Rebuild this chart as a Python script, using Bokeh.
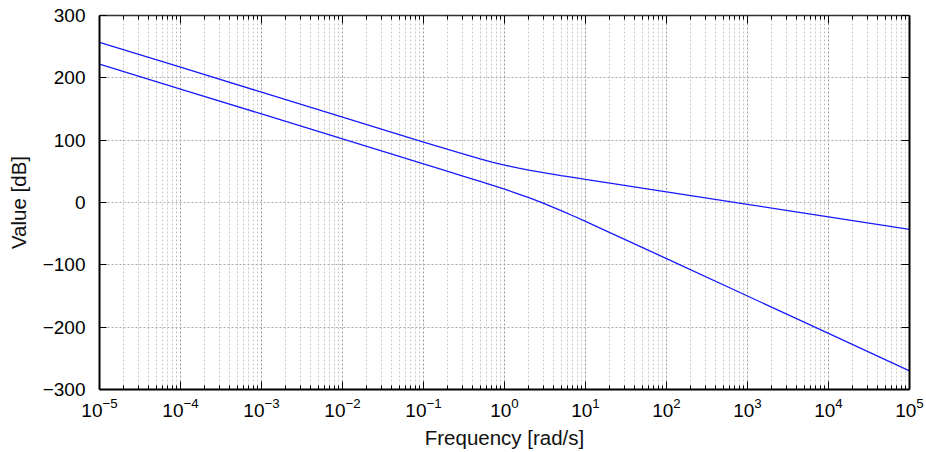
from bokeh.plotting import figure
from bokeh.models import LogAxis, LinearAxis, FixedTicker, CustomJSTickFormatter
from bokeh.embed import file_html
from bokeh.resources import INLINE

# Data
freq = [1e-5, 1e-4, 1e-3, 1e-2, 1e-1, 0.2, 0.3, 0.5, 0.7, 1, 1.5, 2, 3, 5, 7,
        10, 20, 50, 100, 1e3, 1e4, 1e5]
upper_db = [257, 217, 177, 137, 97.0, 85.1, 78.3, 70.0, 64.9, 60.0, 55.1, 51.9,
            47.9, 43.2, 40.2, 37.0, 31.0, 23.0, 17.0, -3.0, -23.0, -43.0]
lower_db = [222, 182, 142, 102, 62.0, 49.9, 42.9, 33.9, 27.9, 21.4, 13.6, 7.8,
            -1.0, -13.0, -21.3, -30.3, -48.2, -72.0, -90.0, -150.0, -210.0, -270.0]

y_ticks = [-300, -200, -100, 0, 100, 200, 300]
x_decades = [1e-5, 1e-4, 1e-3, 1e-2, 1e-1, 1e0, 1e1, 1e2, 1e3, 1e4, 1e5]
x_minor = [m * d for d in x_decades[:-1] for m in range(2, 10)]

FONT = "Liberation Sans"
TICK_FS = "19px"
LABEL_FS = "20.5px"


def xticker():
    return FixedTicker(ticks=x_decades, minor_ticks=x_minor)


p = figure(x_axis_type="log", x_range=(1e-5, 1e5), y_range=(-300, 300),
           frame_width=810, frame_height=374,
           min_border_left=99, min_border_right=17, min_border_top=15,
           min_border_bottom=58,
           output_backend="svg", toolbar_location=None)
p.outline_line_color = None
p.background_fill_color = "white"
p.border_fill_color = "white"

# grids
p.xgrid.ticker = xticker()
p.xgrid.grid_line_color = "#999999"
p.xgrid.grid_line_dash = "2 2"
p.xgrid.minor_grid_line_color = "#c8c8c8"
p.xgrid.minor_grid_line_dash = "2 2"
p.ygrid.grid_line_color = "#aaaaaa"
p.ygrid.grid_line_dash = "2 2"
p.ygrid.ticker = FixedTicker(ticks=y_ticks)

# bottom axis
xa = p.xaxis[0]
xa.ticker = xticker()
xa.axis_line_width = 2
xa.axis_line_color = "black"
xa.major_tick_in = 8
xa.major_tick_out = 0
xa.minor_tick_in = 4
xa.minor_tick_out = 0
xa.major_tick_line_color = "black"
xa.minor_tick_line_color = "black"
xa.major_label_text_font = FONT
xa.major_label_text_font_size = TICK_FS
xa.major_label_text_color = "black"
xa.major_label_standoff = 8
xa.axis_label = "Frequency [rad/s]"
xa.axis_label_text_font = FONT
xa.axis_label_text_font_size = LABEL_FS
xa.axis_label_text_font_style = "normal"
xa.axis_label_text_color = "#111111"
xa.axis_label_standoff = 6

# left axis
ya = p.yaxis[0]
ya.ticker = FixedTicker(ticks=y_ticks)
ya.formatter = CustomJSTickFormatter(
    code="return tick < 0 ? '\\u2212' + Math.abs(tick).toFixed(0) : tick.toFixed(0);")
ya.axis_line_width = 2
ya.axis_line_color = "black"
ya.major_tick_in = 7
ya.major_tick_out = 0
ya.minor_tick_in = 0
ya.minor_tick_out = 0
ya.major_label_text_font = FONT
ya.major_label_text_font_size = TICK_FS
ya.major_label_text_color = "black"
ya.major_label_standoff = 14
ya.axis_label = "Value [dB]"
ya.axis_label_text_font = FONT
ya.axis_label_text_font_size = LABEL_FS
ya.axis_label_text_font_style = "normal"
ya.axis_label_text_color = "#111111"
ya.axis_label_standoff = 10

blank = CustomJSTickFormatter(code="return ''")

# top axis (ticks only)
ta = LogAxis(ticker=xticker(), formatter=blank, axis_line_width=1.5,
             axis_line_color="#333333",
             major_tick_in=8, major_tick_out=0, minor_tick_in=4, minor_tick_out=0,
             major_tick_line_color="black", minor_tick_line_color="black",
             major_label_text_font_size="1px", major_label_standoff=0)
p.add_layout(ta, "above")

# right axis (ticks only)
ra = LinearAxis(ticker=FixedTicker(ticks=y_ticks), formatter=blank,
                axis_line_width=2, axis_line_color="black",
                major_tick_in=8, major_tick_out=0,
                minor_tick_in=0, minor_tick_out=0,
                major_label_text_font_size="1px", major_label_standoff=0)
p.add_layout(ra, "right")

p.line(freq, upper_db, line_color="#1a1aff", line_width=1.3)
p.line(freq, lower_db, line_color="#1a1aff", line_width=1.3)

open("out.html", "w").write(file_html(p, INLINE))
